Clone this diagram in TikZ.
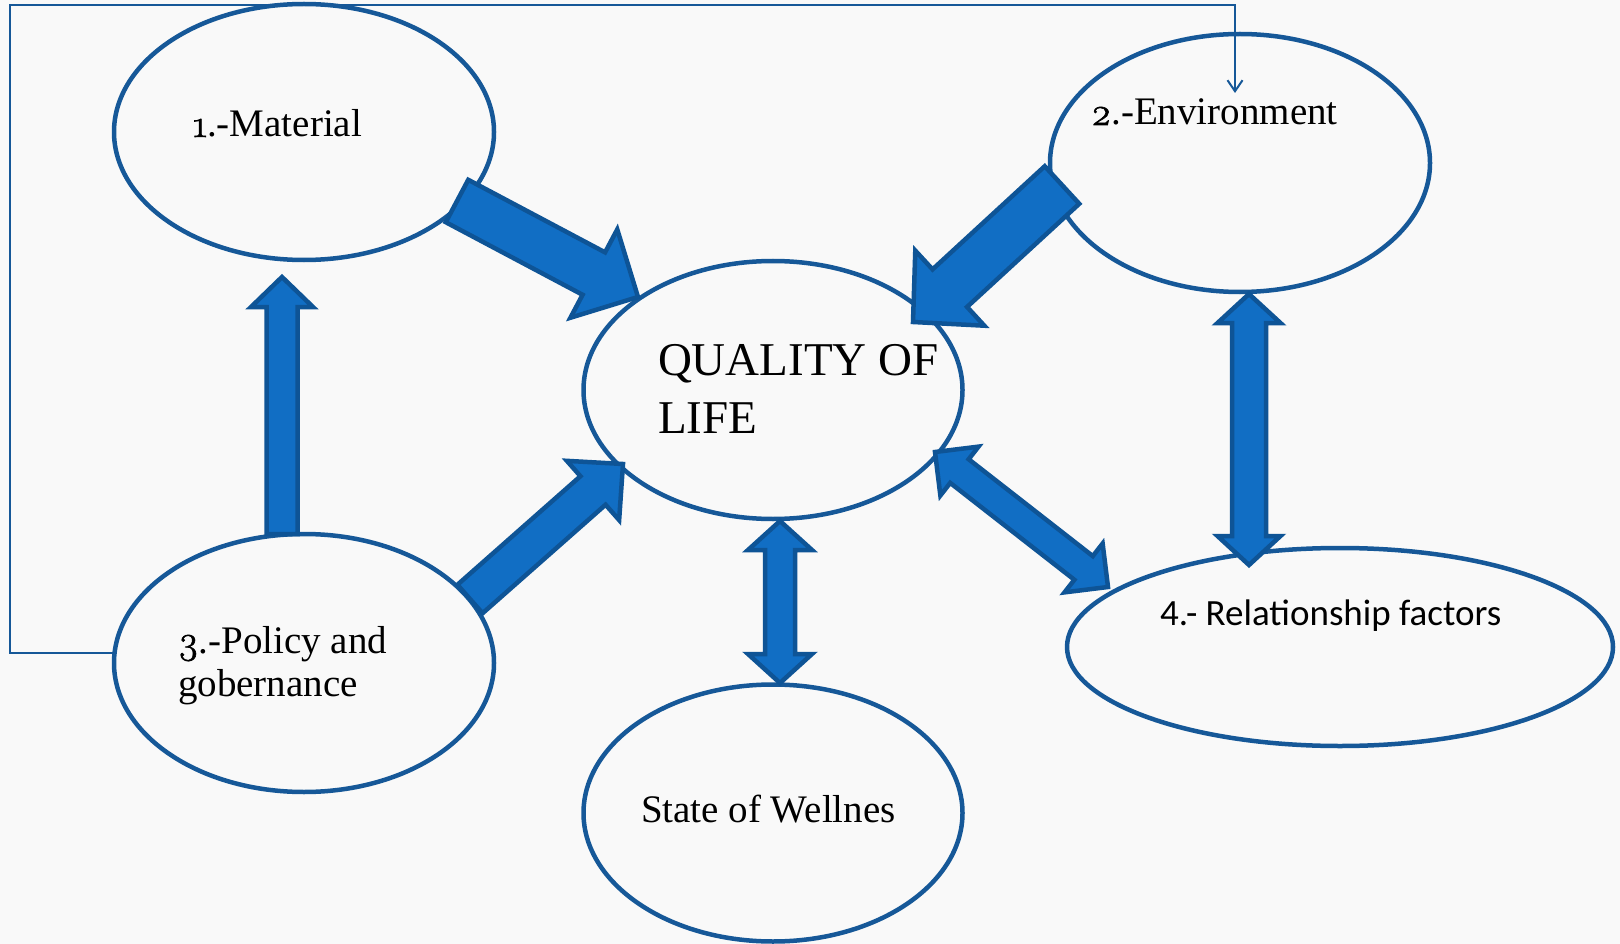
\documentclass[tikz,border=0pt]{standalone}
\usepackage{fontspec}
\setmainfont{Liberation Serif}
\newfontfamily\calib{Carlito}
\newfontfamily\lmos{Latin Modern Roman}[Numbers=OldStyle,FakeBold=1.5]
\usetikzlibrary{shapes.geometric,calc,arrows.meta}
\definecolor{ellc}{RGB}{22,88,152}
\definecolor{arrf}{RGB}{17,110,196}
\definecolor{arrd}{RGB}{14,84,150}
\definecolor{bgc}{RGB}{249,249,249}
\newcommand\osn[1]{{\lmos #1}}
\tikzset{
 ell/.style={ellipse, draw=ellc, line width=4.5pt, inner sep=0pt, outer sep=0pt},
 barrow/.style={fill=arrf, draw=arrd, line width=4.5pt, line join=miter},
 lbl/.style={anchor=base west, inner sep=0pt, outer sep=0pt, font=\fontsize{39}{43}\selectfont},
 qlbl/.style={anchor=base west, inner sep=0pt, outer sep=0pt, font=\fontsize{47}{58}\selectfont},
 slbl/.style={anchor=base west, inner sep=0pt, outer sep=0pt, font=\calib\fontsize{37}{43}\selectfont},
 feed/.style={draw=ellc, line width=2pt, -{Straight Barb[length=11pt,width=15pt]}}
}
% single block arrow: tail, tip, half shaft, half head, head length
\newcommand\sarrow[5]{%
 \coordinate (nx) at ($(#2)!#5pt!(#1)$);
 \draw[barrow] ($(#1)!#3pt!-90:(#2)$) -- ($(nx)!#3pt!-90:(#2)$) -- ($(nx)!#4pt!-90:(#2)$) -- (#2)
   -- ($(nx)!#4pt!90:(#2)$) -- ($(nx)!#3pt!90:(#2)$) -- ($(#1)!#3pt!90:(#2)$) -- cycle;}
% double block arrow
\newcommand\darrow[5]{%
 \coordinate (na) at ($(#1)!#5pt!(#2)$);
 \coordinate (nb) at ($(#2)!#5pt!(#1)$);
 \draw[barrow] (#1) -- ($(na)!#4pt!90:(#2)$) -- ($(na)!#3pt!90:(#2)$) -- ($(nb)!#3pt!90:(#2)$)
   -- ($(nb)!#4pt!90:(#2)$) -- (#2) -- ($(nb)!#4pt!-90:(#2)$) -- ($(nb)!#3pt!-90:(#2)$)
   -- ($(na)!#3pt!-90:(#2)$) -- ($(na)!#4pt!-90:(#2)$) -- cycle;}
\begin{document}
\begin{tikzpicture}[x=1pt,y=-1pt]
\fill[bgc] (0,0) rectangle (1620,944);
\useasboundingbox (0,0) rectangle (1620,944);
% ellipses
\node[ell, minimum width=380, minimum height=256] (mat) at (304,132) {};
\node[ell, minimum width=380, minimum height=258] (env) at (1240,163) {};
\node[ell, minimum width=379, minimum height=258] (qol) at (773,390) {};
\node[ell, minimum width=380, minimum height=258] (pol) at (304,663) {};
\node[ell, minimum width=379, minimum height=257] (sta) at (773,813) {};
\node[ell, minimum width=546, minimum height=198] (rel) at (1340,647) {};
% texts
\node[lbl] (tmat) at (193,137) {\osn{1}.-Material};
\node[lbl] (tenv) at (1091,125) {\osn{2}.-Environment};
\node[qlbl] (tq1) at (658,375) {QUALITY OF};
\node[qlbl] (tq2) at (658,433) {LIFE};
\node[lbl] (tpol1) at (178,653) {\osn{3}.-Policy and};
\node[lbl] (tpol2) at (178,696) {gobernance};
\node[lbl] (tsta) at (641,822) {State of Wellnes};
\node[slbl] (trel) at (1160,625) {4.- Relationship factors};
% thin feedback connector
\coordinate (c1) at (10,5);
\coordinate (c2) at (1235,93);
\draw[feed] (pol.177) -| (c1) -| (c2);
% block arrows
\coordinate (a1t) at (457,201); \coordinate (a1h) at (638,297);
\coordinate (a2t) at (1062,185); \coordinate (a2h) at (913,322);
\coordinate (a3t) at (282,534); \coordinate (a3h) at (282,277);
\coordinate (a4t) at (470,599); \coordinate (a4h) at (623,464);
\coordinate (d1a) at (1249,294); \coordinate (d1b) at (1249,565);
\coordinate (d2a) at (780,521); \coordinate (d2b) at (780,683);
\coordinate (d3a) at (935,452); \coordinate (d3b) at (1108,587);
\sarrow{a1t}{a1h}{24}{50}{50}
\sarrow{a2t}{a2h}{25.5}{51}{50}
\sarrow{a3t}{a3h}{15.5}{31}{30}
\sarrow{a4t}{a4h}{19}{39.5}{40}
\darrow{d1a}{d1b}{17}{31.5}{29}
\darrow{d2a}{d2b}{15}{32}{29}
\darrow{d3a}{d3b}{15}{31}{31}
\end{tikzpicture}
\end{document}
